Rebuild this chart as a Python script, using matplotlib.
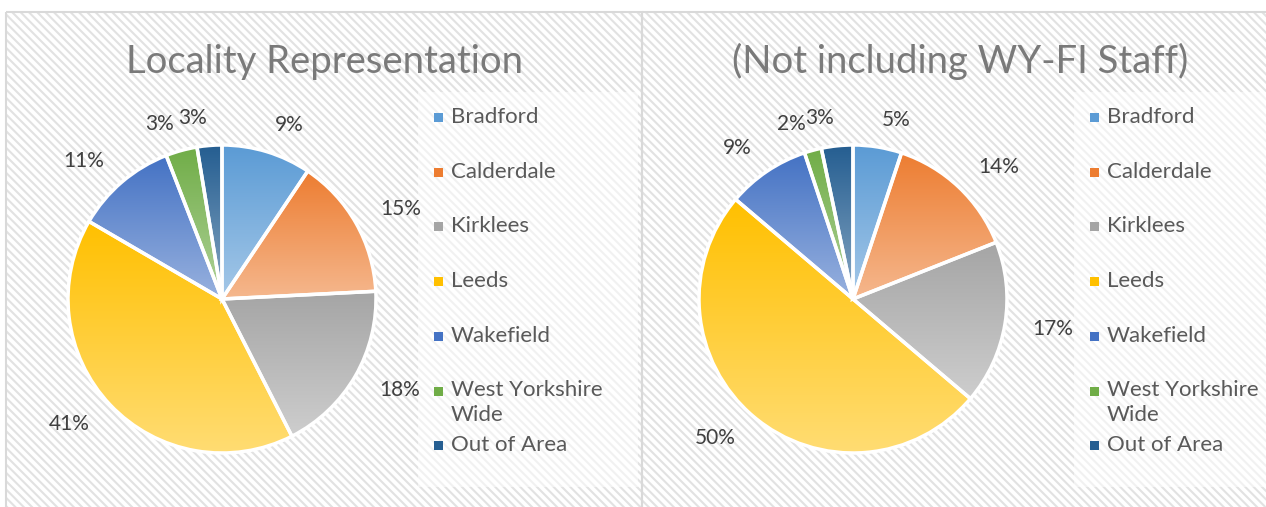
import textwrap
import numpy as np
import matplotlib
matplotlib.use("Agg")
import matplotlib.pyplot as plt
from matplotlib.patches import Rectangle
from matplotlib.colors import to_rgb

# Data
localities = ["Bradford", "Calderdale", "Kirklees", "Leeds", "Wakefield",
              "West Yorkshire Wide", "Out of Area"]
share_all = [9.4, 14.8, 18.3, 40.9, 10.7, 3.3, 2.6]
share_no_staff = [5.1, 13.9, 17.2, 50.0, 8.7, 1.8, 3.3]
titles = ["Locality Representation", "(Not including WY-FI Staff)"]
colors = ["#5B9BD5", "#ED7D31", "#A5A5A5", "#FFC000", "#4472C4", "#70AD47", "#255E91"]

plt.rcParams['font.family'] = ['Lato', 'DejaVu Sans']
plt.rcParams['hatch.linewidth'] = 1.5

W, H = 1266, 507
fig = plt.figure(figsize=(W / 100, H / 100), dpi=100)
fig.patch.set_facecolor("white")

# background axes in pixel coordinates
bg = fig.add_axes([0, 0, 1, 1])
bg.set_xlim(0, W)
bg.set_ylim(H, 0)
bg.axis("off")

panels = [(6, 12, 636), (642, 12, 636)]  # x, y, width
legend_boxes = [(418, 92, 220), (1074, 92, 200)]
pie_centres = [(222, 299), (853, 299)]
radius = 154

for (px, py, pw), (lx, ly, lw), title in zip(panels, legend_boxes, titles):
    bg.add_patch(Rectangle((px, py), pw, H, facecolor="white", edgecolor="#e2e2e2",
                           hatch="\\\\\\\\", lw=0, zorder=0))
    bg.add_patch(Rectangle((px, py), pw, H, facecolor="none", edgecolor="#d9d9d9",
                           lw=1.5, zorder=1))
    bg.add_patch(Rectangle((lx, ly), lw, 395, facecolor="white", edgecolor="none",
                           alpha=0.55, zorder=2))
    bg.text(px + pw / 2, 73, title, ha="center", va="baseline", fontsize=27.5,
            color="#7a7a7a", zorder=3)

    # legend, one slot per category
    pitch = 54.7
    for i, (name, col) in enumerate(zip(localities, colors)):
        top = ly + 16 + pitch * i
        bg.add_patch(Rectangle((lx + 16, top + 5), 9, 9, facecolor=col,
                               edgecolor="none", zorder=3))
        bg.text(lx + 33, top - 1, textwrap.fill(name, 15), ha="left", va="top",
                fontsize=16, color="#595959", linespacing=1.3, zorder=3)


def lighten(c, amt):
    r = np.array(to_rgb(c))
    return r * (1 - amt) + amt


for (cx, cy), values in zip(pie_centres, [share_all, share_no_staff]):
    ax = fig.add_axes([(cx - radius) / W, (H - cy - radius) / H,
                       2 * radius / W, 2 * radius / H])
    labels = ["%d%%" % round(v) for v in values]
    wedges, texts = ax.pie(values, labels=labels, startangle=90, counterclock=False,
                           labeldistance=1.18, radius=1,
                           wedgeprops=dict(facecolor="none", edgecolor="white",
                                           linewidth=2.5, zorder=3),
                           textprops=dict(fontsize=15, color="#404040"))
    for w, col in zip(wedges, colors):
        ext = w.get_path().get_extents()
        top, bot = np.array(to_rgb(col)), lighten(col, 0.45)
        t = np.linspace(0, 1, 100)[:, None]
        grad = (top * (1 - t) + bot * t)[:, None, :]
        im = ax.imshow(grad, extent=[ext.x0, ext.x1, ext.y0, ext.y1], origin="upper",
                       aspect="auto", zorder=1, interpolation="bilinear")
        im.set_clip_path(w)
    ax.set_xlim(-1, 1)
    ax.set_ylim(-1, 1)
    ax.set_aspect("equal")
    ax.axis("off")
    for t in texts:
        t.set_clip_on(False)

fig.savefig("out.png", dpi=100)
